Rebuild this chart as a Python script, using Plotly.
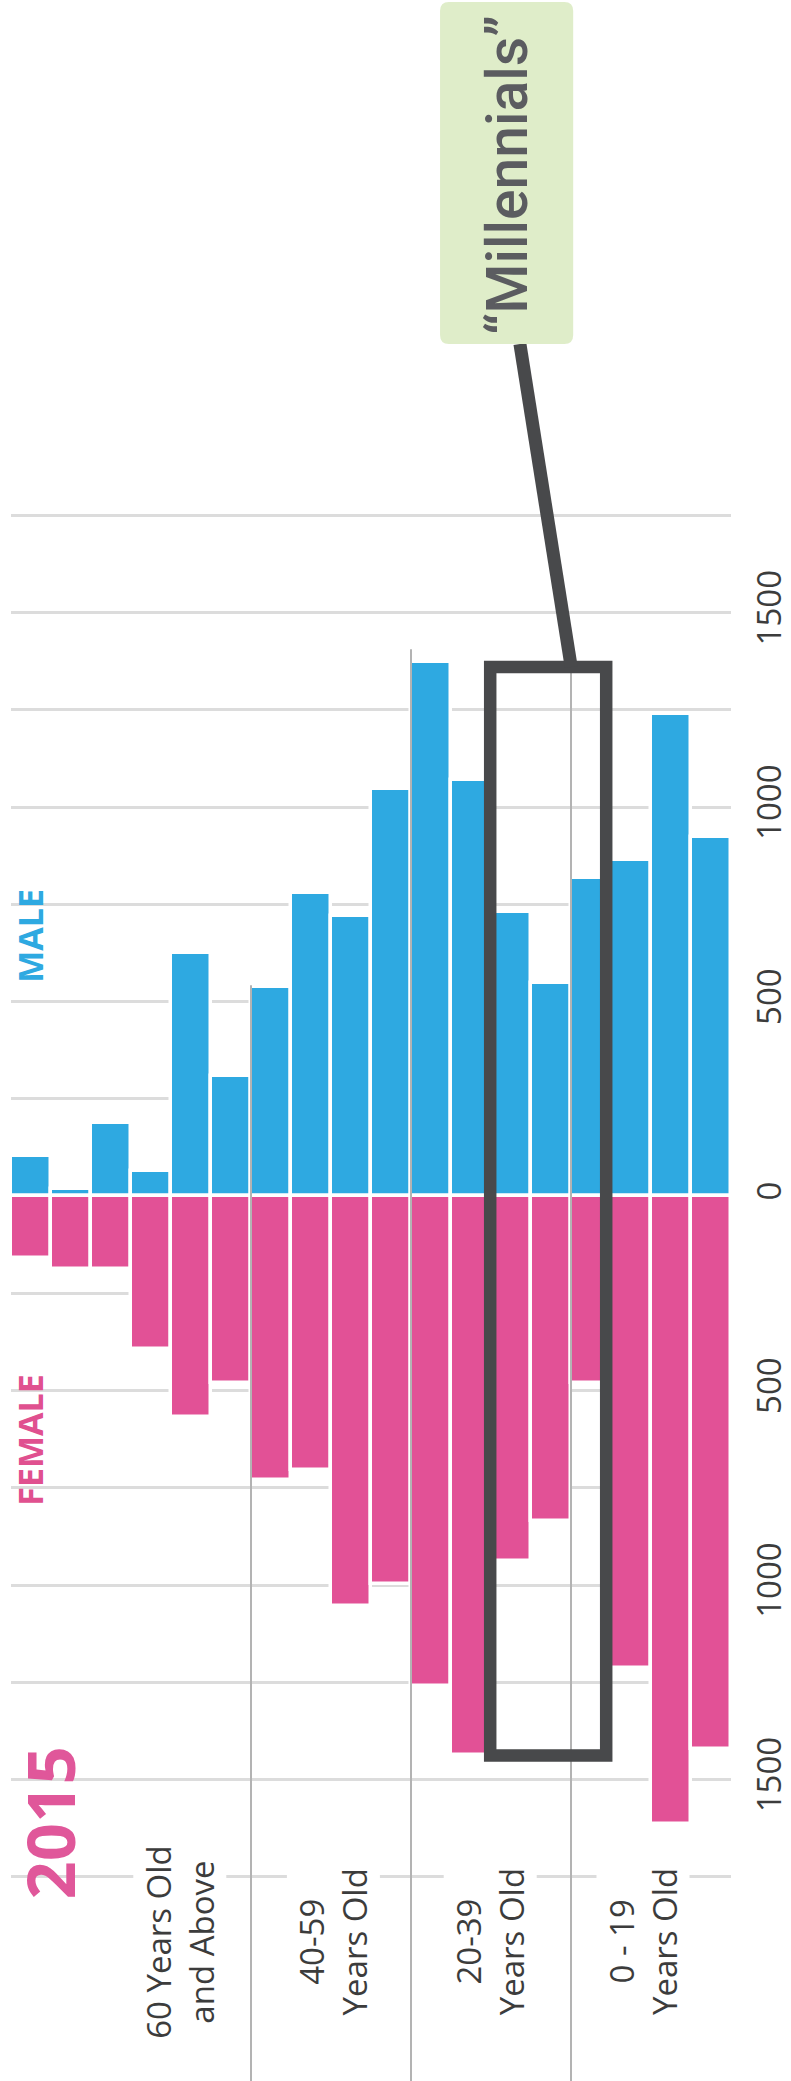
import plotly.graph_objects as go

# Five-year age bands, oldest on the left
age_bands = ["85+", "80-84", "75-79", "70-74", "65-69", "60-64",
             "55-59", "50-54", "45-49", "40-44",
             "35-39", "30-34", "25-29", "20-24",
             "15-19", "10-14", "5-9", "0-4"]
male = [104, 19, 187, 65, 624, 308, 538, 780, 720, 1046,
        1372, 1069, 731, 549, 817, 864, 1239, 924]
female = [158, 187, 187, 393, 569, 481, 731, 703, 1054, 996,
          1259, 1437, 938, 835, 481, 1214, 1613, 1422]

group_labels = ["60 Years Old<br>and Above", "40-59<br>Years Old",
                "20-39<br>Years Old", "0 - 19<br>Years Old"]
grid_values = list(range(-1750, 1751, 250))
tick_labels = [str(abs(v)) if v % 500 == 0 else "" for v in grid_values]

# ---- layout geometry -------------------------------------------------------
FIG_W, FIG_H = 791, 2081
PLOT_L, PLOT_R = 11, 50
PLOT_W = FIG_W - PLOT_L - PLOT_R
Y_RANGE = [-2275, 3075]

BLUE = "#2ea9e1"
PINK = "#e25196"
DARK = "#48494b"
GRID = "#dcdcdc"
SEP = "#b3b3b3"
TEXT = "#3c3c3c"


def px_x(p):
    return (p - PLOT_L) / PLOT_W


def px_y(p):
    return 1 - p / FIG_H


def rounded_rect(x0, y0, x1, y1, r):
    def P(x, y):
        return f"{px_x(x):.5f},{px_y(y):.5f}"
    return (f"M {P(x0 + r, y0)} L {P(x1 - r, y0)} Q {P(x1, y0)} {P(x1, y0 + r)} "
            f"L {P(x1, y1 - r)} Q {P(x1, y1)} {P(x1 - r, y1)} "
            f"L {P(x0 + r, y1)} Q {P(x0, y1)} {P(x0, y1 - r)} "
            f"L {P(x0, y0 + r)} Q {P(x0, y0)} {P(x0 + r, y0)} Z")


fig = go.Figure()
fig.add_trace(go.Bar(x=age_bands, y=male, name="Male",
                     marker=dict(color=BLUE, line=dict(color="white", width=3.5))))
fig.add_trace(go.Bar(x=age_bands, y=[-v for v in female], name="Female",
                     marker=dict(color=PINK, line=dict(color="white", width=3.5))))

shapes = []
# white patches that interrupt the grid behind the side labels
for (x0, y0, x1, y1) in [(0, 895, 57, 1010), (0, 1383, 57, 1497), (0, 1740, 96, 1905)]:
    shapes.append(dict(type="rect", xref="paper", yref="paper", layer="between",
                       x0=px_x(x0), x1=px_x(x1), y0=px_y(y1), y1=px_y(y0),
                       fillcolor="white", line=dict(width=0)))
# age-group separators
for xpos, top in [(5.5, 542), (9.5, 1406), (13.5, 1375)]:
    shapes.append(dict(type="line", xref="x", yref="y", layer="above",
                       x0=xpos, x1=xpos, y0=Y_RANGE[0], y1=top,
                       line=dict(color=SEP, width=2)))
# highlight frame
shapes.append(dict(type="rect", xref="x", yref="y", layer="above",
                   x0=11.48, x1=14.38, y0=-1438, y1=1360,
                   line=dict(color=DARK, width=12.5), fillcolor="rgba(0,0,0,0)"))
# leader line
shapes.append(dict(type="line", xref="paper", yref="paper", layer="above",
                   x0=px_x(527), y0=px_y(344), x1=px_x(579), y1=px_y(667),
                   line=dict(color=DARK, width=13)))
# callout tag
shapes.append(dict(type="path", xref="paper", yref="paper", layer="above",
                   path=rounded_rect(446, 2, 581, 344, 9),
                   fillcolor="#dfedc9", line=dict(width=0)))


def side_label(text, x, y, size, color, family="Open Sans"):
    return dict(text=text, x=px_x(x), y=px_y(y), xref="paper", yref="paper",
                textangle=-90, showarrow=False, xanchor="center", yanchor="middle",
                font=dict(family=family, size=size, color=color))


annotations = [
    side_label("“Millennials”", 514, 175, 57, "#5b5c60", family="Roboto"),
    side_label("<b>MALE</b>", 30, 936, 34, BLUE),
    side_label("<b>FEMALE</b>", 30, 1440, 34, "#e0508f"),
    side_label("<b>2015</b>", 50, 1823, 67, "#e0579a"),
]
annotations[0]["font"]["weight"] = 500

for label, xc in zip(group_labels, [3.72, 7.56, 11.48, 15.30]):
    annotations.append(dict(text=label, x=xc, y=px_y(1942), xref="x", yref="paper",
                            textangle=-90, showarrow=False, xanchor="center",
                            yanchor="middle", bgcolor="white", borderpad=2,
                            font=dict(family="Open Sans", size=33, color=TEXT)))

fig.update_layout(
    width=FIG_W, height=FIG_H,
    margin=dict(l=PLOT_L, r=PLOT_R, t=0, b=0, pad=0),
    paper_bgcolor="white", plot_bgcolor="white",
    barmode="relative", bargap=0, showlegend=False,
    shapes=shapes, annotations=annotations,
    xaxis=dict(type="category", range=[-0.5, 17.5], showticklabels=False,
               showgrid=False, zeroline=False, showline=False, ticks=""),
    yaxis=dict(range=Y_RANGE, side="right", tickvals=grid_values, ticktext=tick_labels,
               tickangle=-90, ticks="", ticklabelstandoff=16,
               tickfont=dict(family="Open Sans", size=33, color=TEXT),
               showgrid=True, gridcolor=GRID, gridwidth=2.5,
               zeroline=False, showline=False),
)

fig.write_html("out.html")
